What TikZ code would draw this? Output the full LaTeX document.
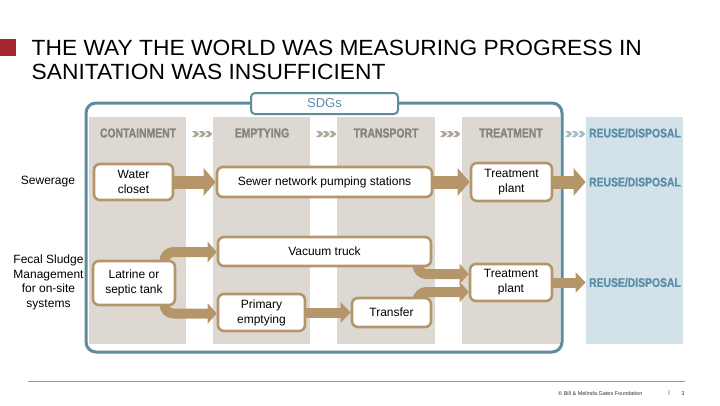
\documentclass[tikz,border=0pt]{standalone}
\usepackage{fontspec}
\setmainfont{Liberation Sans}
\newfontfamily\hdrfont[FakeBold=1.2]{Liberation Sans Bold}
\usetikzlibrary{arrows.meta}
\definecolor{colgray}{HTML}{DDD9D2}
\definecolor{colblue}{HTML}{D3E2E9}
\definecolor{teal}{HTML}{5F8C9D}
\definecolor{tealtxt}{HTML}{5A8FA8}
\definecolor{brown}{HTML}{B5966B}
\definecolor{hdrgray}{HTML}{87827A}
\definecolor{chevgray}{HTML}{ADA79C}
\definecolor{chevblue}{HTML}{A7BCC5}
\definecolor{redsq}{HTML}{A3292E}
\definecolor{footline}{HTML}{8AA3AD}
\pgfdeclarelayer{bg}
\pgfdeclarelayer{arr}
\pgfsetlayers{bg,arr,main}
\tikzset{
  stagebox/.style={draw=brown, line width=2.6pt, fill=white, rounded corners=6pt, inner sep=0pt},
  boxtext/.style={font=\fontsize{12}{15}\selectfont, align=center, text=black},
  hdr/.style={font=\hdrfont\fontsize{13}{14}\selectfont, text=hdrgray},
  hdrblue/.style={font=\hdrfont\fontsize{12.5}{14}\selectfont, text=tealtxt},
  bigarrow/.style={draw=brown, line width=13pt, -{Triangle[width=27pt,length=12pt]}},
  smallarrow/.style={draw=brown, line width=10pt, rounded corners=9pt, -{Triangle[width=20pt,length=9pt]}},
  midarrow/.style={draw=brown, line width=10pt, -{Triangle[width=20pt,length=10pt]}},
  sidelabel/.style={font=\fontsize{12}{14.5}\selectfont, align=center, text=black},
  foot/.style={inner sep=0pt, font=\fontsize{5.5}{6}\selectfont, text=black!80},
}
\newcommand{\chevs}[3]{%
  \foreach \k in {0,1,2}{%
    \fill[#3] ({#1+\k*6.5},{#2-3}) -- ++(4,0) -- ++(3.5,3) -- ++(-3.5,3) -- ++(-4,0) -- ++(3.5,-3) -- cycle;
  }}
\begin{document}
\begin{tikzpicture}[x=1pt,y=-1pt]
\useasboundingbox (0,0) rectangle (720,405);
% title
\fill[redsq] (0,39) rectangle (16,56);
\node[anchor=base west, inner sep=0pt, font=\fontsize{22}{24}\selectfont] (t1) at (31.5,55.7) {\scalebox{1.035}[1]{THE WAY THE WORLD WAS MEASURING PROGRESS IN}};
\node[anchor=base west, inner sep=0pt, font=\fontsize{22}{24}\selectfont] (t2) at (31.5,79.7) {\scalebox{1.035}[1]{SANITATION WAS INSUFFICIENT}};
% columns and frame
\begin{pgfonlayer}{bg}
\fill[colgray] (89,117) rectangle (186,344);
\fill[colgray] (213,117) rectangle (310,344);
\fill[colgray] (337,117) rectangle (435,344);
\fill[colgray] (462,117) rectangle (560,344);
\fill[colblue] (586,117) rectangle (683,344);
\draw[teal, line width=3pt, rounded corners=10pt] (86,103) rectangle (562,352);
\end{pgfonlayer}
\node[draw=teal, line width=2pt, fill=white, rounded corners=4pt, minimum width=147pt, minimum height=21pt, inner sep=0pt, text=tealtxt, font=\fontsize{13}{15}\selectfont] (sdg) at (324.5,103.5) {SDGs};
% headers
\node[hdr] (h1) at (138,133) {\scalebox{0.8}[1]{CONTAINMENT}};
\node[hdr] (h2) at (262,133) {\scalebox{0.8}[1]{EMPTYING}};
\node[hdr] (h3) at (386,133) {\scalebox{0.8}[1]{TRANSPORT}};
\node[hdr] (h4) at (511,133) {\scalebox{0.8}[1]{TREATMENT}};
\node[hdrblue] (h5) at (635,133) {\scalebox{0.83}[1]{REUSE/DISPOSAL}};
\chevs{192}{134}{chevgray}
\chevs{316}{134}{chevgray}
\chevs{440}{134}{chevgray}
\chevs{565}{134}{chevblue}
% side labels
\node[sidelabel] (sew) at (48,182) {Sewerage};
\node[sidelabel] (fsm) at (48.5,282.5) {Fecal Sludge\\Management\\for on-site\\systems};
% reuse labels
\node[hdrblue] (r1) at (635,182) {\scalebox{0.83}[1]{REUSE/DISPOSAL}};
\node[hdrblue] (r2) at (635,282.5) {\scalebox{0.83}[1]{REUSE/DISPOSAL}};
% boxes
\node[stagebox, minimum width=79pt, minimum height=36pt] (wc) at (133.5,182) {};
\node[boxtext] at (wc) {Water\\closet};
\node[stagebox, minimum width=215pt, minimum height=30pt] (sn) at (324.5,182) {};
\node[boxtext] at (sn) {Sewer network pumping stations};
\node[stagebox, minimum width=81pt, minimum height=38pt] (tp1) at (511.5,182) {};
\node[boxtext] at (tp1) {Treatment\\plant};
\node[stagebox, minimum width=213pt, minimum height=29pt] (vt) at (324.5,251.5) {};
\node[boxtext] at (vt) {Vacuum truck};
\node[stagebox, minimum width=82pt, minimum height=44pt] (lt) at (134,283) {};
\node[boxtext] at (lt) {Latrine or\\septic tank};
\node[stagebox, minimum width=87pt, minimum height=37pt] (pe) at (261.5,312.5) {};
\node[boxtext] at (pe) {Primary\\emptying};
\node[stagebox, minimum width=79pt, minimum height=29pt] (tr) at (391.5,312.5) {};
\node[boxtext] at (tr) {Transfer};
\node[stagebox, minimum width=82pt, minimum height=37pt] (tp2) at (511,282.5) {};
\node[boxtext] at (tp2) {Treatment\\plant};
% fork points
\coordinate (ltup) at (164.5,275);
\coordinate (ltdn) at (164.5,291);
\coordinate (vtdn) at (417.5,256);
\coordinate (trup) at (417.5,310);
% connectors (behind the boxes)
\begin{pgfonlayer}{arr}
\draw[bigarrow] (wc.east) -- (sn.west);
\draw[bigarrow] (sn.east) -- (tp1.west |- sn.east);
\draw[bigarrow] (tp1.east) -- (r1.west);
\draw[smallarrow] (ltup) |- ([yshift=-0.5pt]vt.west);
\draw[smallarrow] (ltdn) |- ([yshift=-1pt]pe.west);
\draw[smallarrow] (vtdn) |- ([yshift=8.5pt]tp2.west);
\draw[smallarrow] (trup) |- ([yshift=-9.5pt]tp2.west);
\draw[midarrow] (pe.east) -- (tr.west);
\draw[midarrow] (tp2.east) -- (r2.west);
\end{pgfonlayer}
% footer
\coordinate (fl1) at (28,381.5);
\coordinate (fl2) at (685,381.5);
\draw[footline, line width=1pt] (fl1) -- (fl2);
\node[foot, anchor=west] (ft) at (558,393.3) {\textcopyright\ Bill \& Melinda Gates Foundation};
\node[foot] (bar) at (669,393.3) {|};
\node[foot] (pg) at (683,393.3) {3};
\end{tikzpicture}
\end{document}
